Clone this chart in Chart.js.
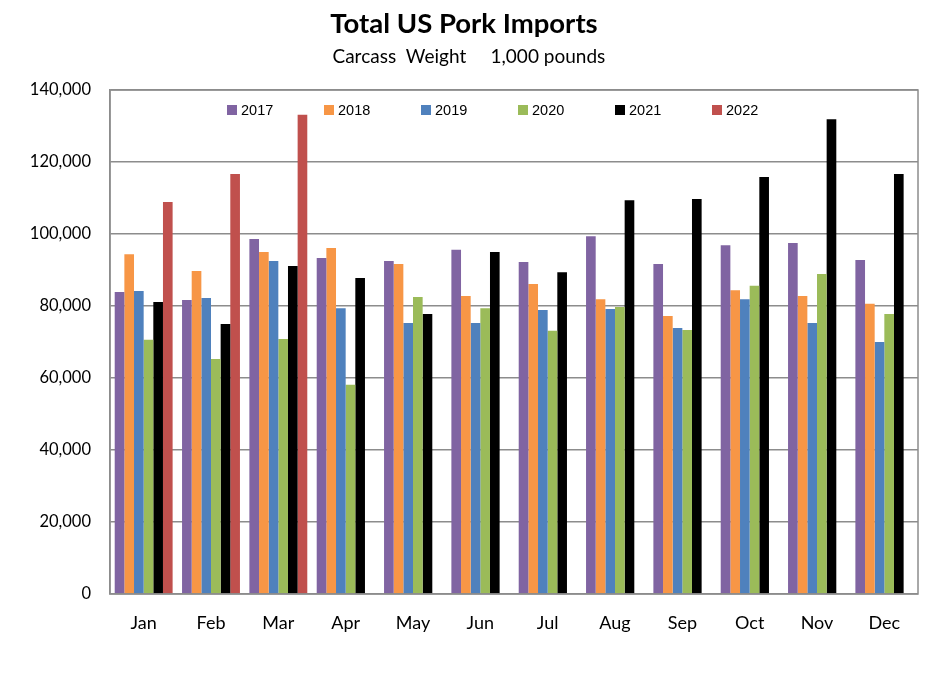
<!DOCTYPE html>
<html>
<head>
<meta charset="utf-8">
<script src="https://cdn.jsdelivr.net/npm/chart.js@4"></script>
<style>
  body { margin: 0; background: #fff; }
  #wrap { position: relative; width: 933px; height: 677px; }
  #legend { position: absolute; left: 227px; top: 103px; height: 14px; line-height: 14px; display: flex; font-family: "Liberation Sans"; font-size: 14.5px; color: #000; }
  #legend .item { width: 97px; display: flex; align-items: center; }
  #legend .box { width: 10px; height: 10px; margin-right: 4px; }
</style>
</head>
<body>
<div id="wrap">
  <canvas id="myChart" width="933" height="677"></canvas>
  <div id="legend"></div>
</div>
<script>
// months on the x axis
var months = ['Jan', 'Feb', 'Mar', 'Apr', 'May', 'Jun', 'Jul', 'Aug', 'Sep', 'Oct', 'Nov', 'Dec'];
var years = ['2017', '2018', '2019', '2020', '2021', '2022'];

// carcass weight, 1,000 pounds
var y2017 = [83900, 81700, 98600, 93300, 92500, 95600, 92200, 99400, 91700, 96900, 97500, 92800];
var y2018 = [94400, 89700, 95000, 96100, 91700, 82800, 86100, 81900, 77200, 84400, 82800, 80600];
var y2019 = [84200, 82200, 92500, 79400, 75300, 75300, 78900, 79200, 73900, 81900, 75300, 70000];
var y2020 = [70600, 65300, 70800, 58100, 82500, 79400, 73100, 79700, 73300, 85600, 88900, 77800];
var y2021 = [81100, 75000, 91100, 87800, 77800, 95000, 89400, 109400, 109700, 115800, 131900, 116700];
var y2022 = [108900, 116700, 133100, null, null, null, null, null, null, null, null, null];

var yTicks = [0, 20000, 40000, 60000, 80000, 100000, 120000, 140000];

var colors = ['#8064A2', '#F79646', '#4F81BD', '#9BBB59', '#000000', '#C0504D'];
var series = [y2017, y2018, y2019, y2020, y2021, y2022];

var datasets = years.map(function (yr, i) {
    return { label: yr, data: series[i], backgroundColor: colors[i], borderWidth: 0 };
});

// legend inside the plot
var legend = document.getElementById('legend');
years.forEach(function (yr, i) {
    var item = document.createElement('div');
    item.className = 'item';
    item.innerHTML = '<span class="box" style="background:' + colors[i] + '"></span>' + yr;
    legend.appendChild(item);
});

// gray frame around the plot area
var frame = {
    id: 'frame',
    afterDatasetsDraw: function (chart) {
        var a = chart.chartArea, c = chart.ctx;
        c.save();
        c.strokeStyle = '#8c8c8c';
        c.lineWidth = 1.5;
        c.strokeRect(a.left, a.top, a.right - a.left, a.bottom - a.top);
        c.restore();
    }
};

var ctx = document.getElementById('myChart').getContext('2d');
var chart = new Chart(ctx, {
    type: 'bar',
    data: { labels: months, datasets: datasets },
    options: {
        responsive: false,
        animation: false,
        datasets: { bar: { categoryPercentage: 0.86, barPercentage: 1.0 } },
        layout: { padding: { left: 10, right: 15, top: 0, bottom: 25.4 } },
        plugins: {
            legend: { display: false },
            tooltip: { enabled: false },
            title: {
                display: true,
                text: 'Total US Pork Imports',
                color: '#000',
                font: { family: 'Lato', size: 27.5, weight: 'bold' },
                padding: { top: 7.5, bottom: 0 }
            },
            subtitle: {
                display: true,
                text: '  Carcass  Weight     1,000 pounds',
                color: '#000',
                font: { family: 'Lato', size: 19 },
                padding: { top: 5.1, bottom: 21.6 }
            }
        },
        scales: {
            x: {
                grid: { display: false, drawTicks: false },
                border: { display: false },
                ticks: { color: '#000', font: { family: 'Lato', size: 18 }, padding: 18, maxRotation: 0 }
            },
            y: {
                min: 0,
                max: 140000,
                afterFit: function (scale) { scale.width = 100; },
                afterBuildTicks: function (scale) {
                    scale.ticks = yTicks.map(function (v) { return { value: v }; });
                },
                grid: { color: '#8c8c8c', lineWidth: 1.5, drawTicks: false },
                border: { display: true, color: '#8c8c8c', width: 1.5 },
                ticks: {
                    color: '#000',
                    font: { family: 'Lato', size: 16.5 },
                    padding: 19,
                    callback: function (v) { return v.toLocaleString('en-US'); }
                }
            }
        }
    },
    plugins: [frame]
});
</script>
</body>
</html>
